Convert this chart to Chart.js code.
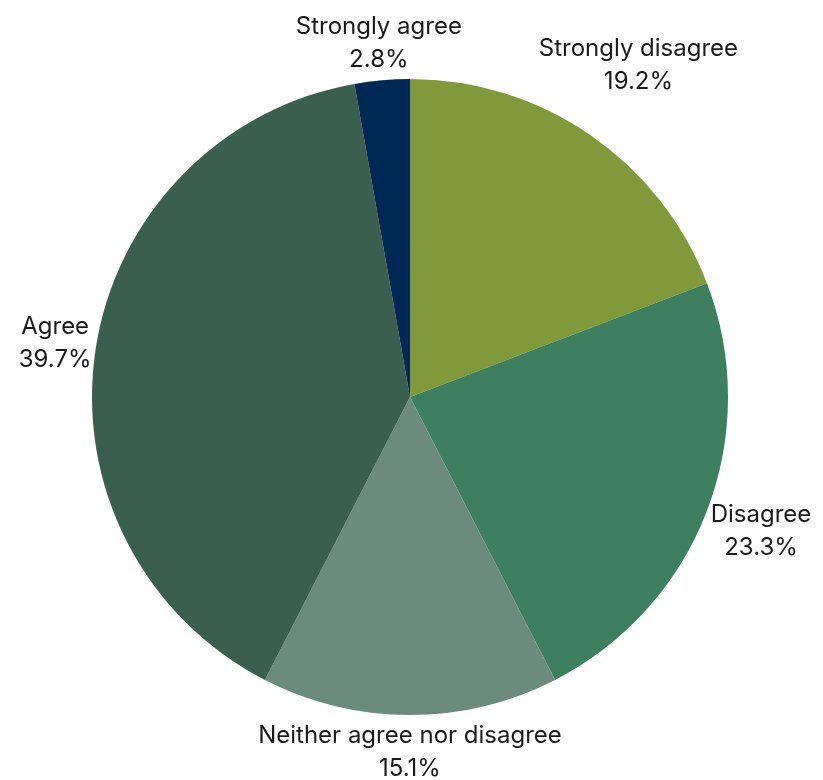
<!DOCTYPE html>
<html>
<head>
<meta charset="utf-8">
<script src="https://cdn.jsdelivr.net/npm/chart.js@4/dist/chart.umd.min.js"></script>
<style>
    html, body { margin: 0; padding: 0; background: #ffffff; }
    #wrap { width: 823px; height: 780px; position: relative; }
</style>
</head>
<body>
<div id="wrap"><canvas id="pieChart"></canvas></div>
<script>
// 数据：类别、百分比、颜色
const categories = ['Strongly disagree', 'Disagree', 'Neither agree nor disagree', 'Agree', 'Strongly agree'];
const shares = [19.2, 23.3, 15.1, 39.7, 2.8];
const sliceColors = ['#7f993b', '#3e7f5f', '#6b8c7d', '#3b5f4f', '#002855'];
// 标签额外外推距离（像素）
const labelPush = [41, 0, 0, 0, 0];

const FONT = '24px Inter, "Noto Sans", sans-serif';
const LINE_H = 33;

// 外侧标签插件：沿扇区中线放置两行文字
const outsideLabels = {
    id: 'outsideLabels',
    afterDatasetsDraw(chart) {
        const ctx = chart.ctx;
        const meta = chart.getDatasetMeta(0);
        ctx.save();
        ctx.font = FONT;
        ctx.fillStyle = '#1a1a1a';
        ctx.textAlign = 'center';
        ctx.textBaseline = 'middle';
        meta.data.forEach((arc, i) => {
            const p = arc.getProps(['x', 'y', 'startAngle', 'endAngle', 'outerRadius'], true);
            const mid = (p.startAngle + p.endAngle) / 2;
            const dx = Math.cos(mid), dy = Math.sin(mid);
            const lines = [categories[i], shares[i].toFixed(1) + '%'];
            const w = Math.max(...lines.map(t => ctx.measureText(t).width));
            const h = LINE_H * 2;
            // 射线到文字框边缘的距离
            const ex = Math.abs(dx) > 1e-6 ? (w / 2) / Math.abs(dx) : Infinity;
            const ey = Math.abs(dy) > 1e-6 ? (h / 2) / Math.abs(dy) : Infinity;
            const t = p.outerRadius + 4 + Math.min(ex, ey) + labelPush[i];
            const cx = p.x + dx * t;
            const cy = p.y + dy * t;
            lines.forEach((txt, k) => {
                ctx.fillText(txt, cx, cy + (k - 0.5) * LINE_H);
            });
        });
        ctx.restore();
    }
};

document.addEventListener('DOMContentLoaded', function() {
    const ctx = document.getElementById('pieChart').getContext('2d');
    new Chart(ctx, {
        type: 'pie',
        data: {
            labels: categories,
            datasets: [{
                data: shares,
                backgroundColor: sliceColors,
                borderWidth: 0
            }]
        },
        options: {
            responsive: true,
            maintainAspectRatio: false,
            animation: false,
            layout: {
                padding: { left: 92, right: 95, top: 79, bottom: 65 }
            },
            plugins: {
                legend: { display: false },
                tooltip: { enabled: false }
            }
        },
        plugins: [outsideLabels]
    });
});
</script>
</body>
</html>
